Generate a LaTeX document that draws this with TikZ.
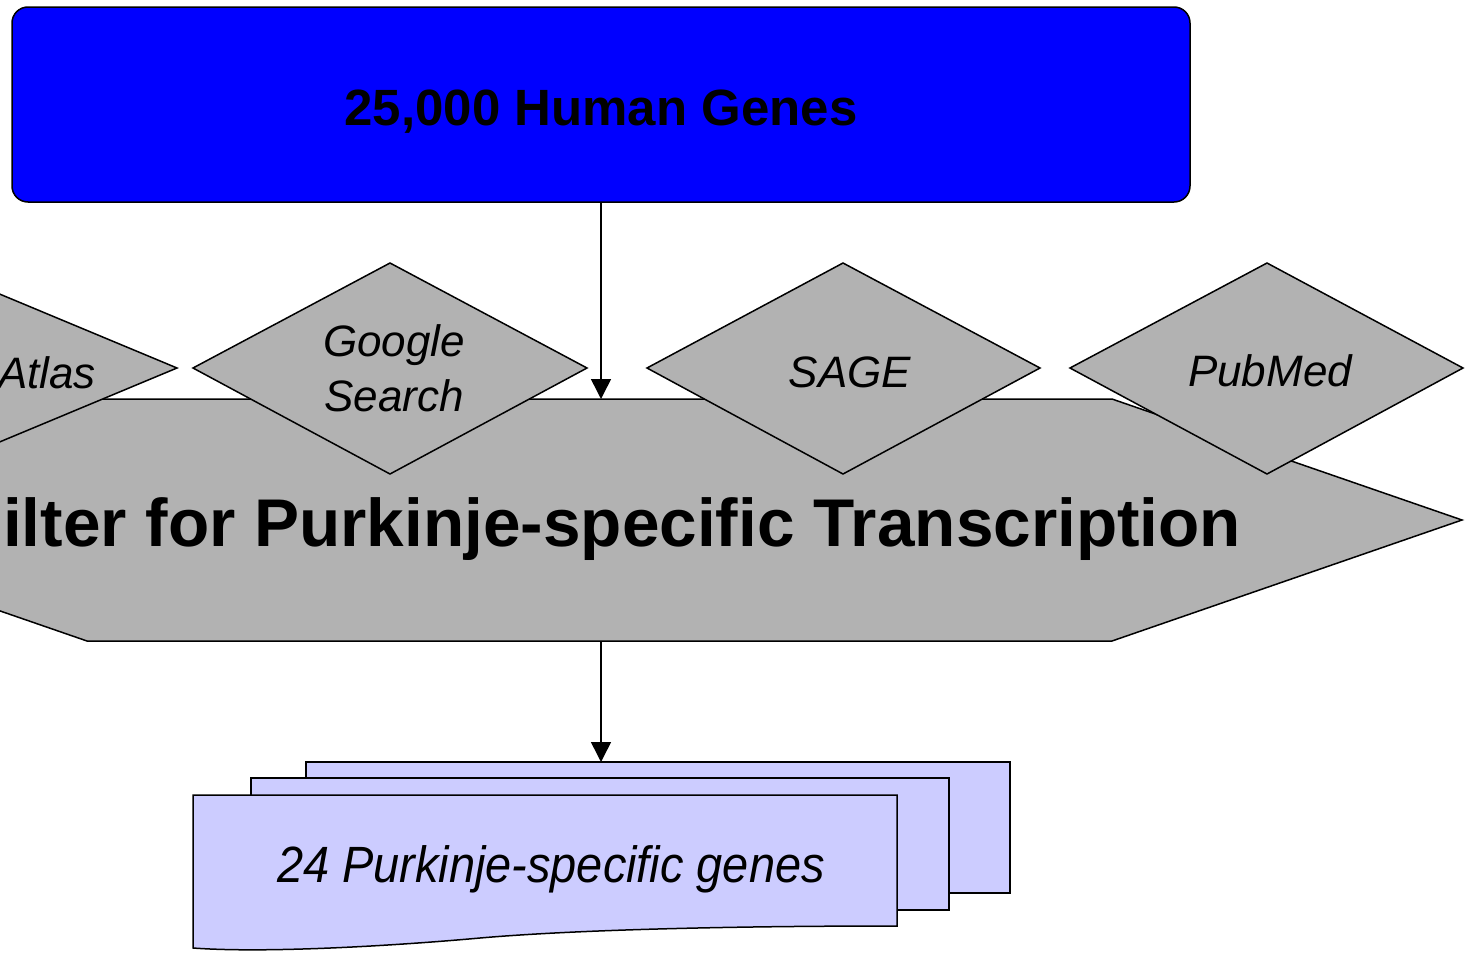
\documentclass[tikz,border=0pt]{standalone}
\usepackage{fontspec}
\setmainfont{Liberation Sans}
\usetikzlibrary{arrows.meta}
\definecolor{boxblue}{HTML}{0000FF}
\definecolor{shapegray}{HTML}{B2B2B2}
\definecolor{doclav}{HTML}{CCCCFF}
\begin{document}
\begin{tikzpicture}[x=1pt,y=-1pt,
  outline/.style={draw=black,line width=1.5pt,line join=miter},
  grayshape/.style={outline,fill=shapegray},
  sheet/.style={outline,fill=doclav},
  flow/.style={draw=black,line width=1.5pt,-{Triangle[length=20pt,width=20pt]}},
  label/.style={inner sep=0pt,outer sep=0pt},
  diamondtext/.style={label,font=\fontsize{44}{55}\selectfont\itshape,align=center},
  ]
\useasboundingbox (0,0) rectangle (1467,953);
\clip (0,0) rectangle (1467,953);

% top box
\node[outline,fill=boxblue,rounded corners=16pt,minimum width=1178pt,minimum height=195pt,inner sep=0pt] (genes) at (601,104.5) {};
\node[label,anchor=base,font=\fontsize{51}{61}\selectfont\bfseries] (genestext) at (601,125) {25,000 Human Genes};

% filter hexagon
\path[grayshape] (-263,520) -- (87,399) -- (1112,399) -- (1462,520) -- (1112,641) -- (87,641) -- cycle;
\coordinate (hexT) at (601,399);
\coordinate (hexB) at (601,641);
\node[label,anchor=base east,font=\fontsize{67.5}{80}\selectfont\bfseries] (filtertext) at (1241,546) {ilter for Purkinje-specific Transcription};

% source diamonds
\path[grayshape] (-329,368) -- (-76,262.5) -- (177,368) -- (-76,473.5) -- cycle;
\path[grayshape] (193,368) -- (390,263) -- (587,368) -- (390,474) -- cycle;
\path[grayshape] (647,368) -- (843,263) -- (1040,368) -- (843,474) -- cycle;
\path[grayshape] (1070,368) -- (1267,263) -- (1463,368) -- (1267,474) -- cycle;
\node[diamondtext,anchor=base east] (atlas) at (96,388) {Atlas};
\node[diamondtext] (google) at (394,368) {Google\\Search};
\node[diamondtext,anchor=base] (sage) at (850,387) {SAGE};
\node[diamondtext,anchor=base] (pubmed) at (1270,386) {PubMed};

% result documents
\path[sheet] (306,762) rectangle (1010,893);
\path[sheet] (251,778) rectangle (949,910);
\path[sheet] (193,795) -- (897,795) -- (897,926) .. controls (700,926) and (560,931) .. (480,938) .. controls (380,947) and (260,953) .. (193,948) -- cycle;
\coordinate (docT) at (601,762);
\node[label,anchor=base,font=\fontsize{51}{61}\selectfont\itshape] (result) at (551,882) {\scalebox{0.92}[1]{24 Purkinje-specific genes}};

% connectors
\draw[flow] (genes.south) -- (hexT);
\draw[flow] (hexB) -- (docT);
\end{tikzpicture}
\end{document}
